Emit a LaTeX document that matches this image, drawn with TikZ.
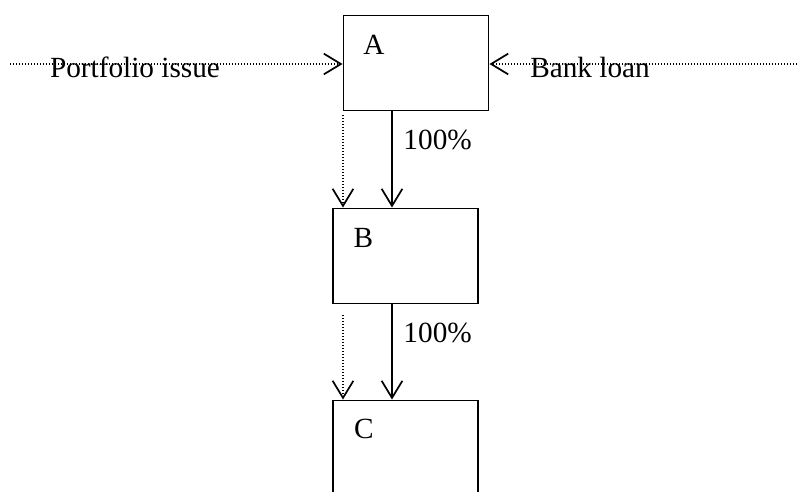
\documentclass[tikz,border=0pt]{standalone}
\usepackage{fontspec}
\setmainfont{Liberation Serif}
\usetikzlibrary{arrows.meta}
\def\u{0.41pt}

\begin{document}
\begin{tikzpicture}[x=\u,y=-\u,
    box/.style={draw,line width=0.8pt,minimum width=145*\u,minimum height=95*\u,inner sep=0pt},
    lbl/.style={font=\fontsize{12}{14}\selectfont,inner sep=0pt},
    flow/.style={line width=0.7pt,-{Straight Barb[length=7pt,width=8.5pt]}},
    share/.style={line width=0.6pt,dash pattern=on 0.41pt off 0.82pt,-{Straight Barb[length=7pt,width=8.5pt,line width=0.7pt]}}]

\useasboundingbox (0,0) rectangle (797,491);
\clip (0,0) rectangle (797,491);

%the three boxes
\node[box] (A) at (416,63) {};
\node[box] (B) at (405.5,256) {};
\node[box] (C) at (405.5,448) {};

\node[lbl,anchor=base] (Alab) at (374,54) {A};
\node[lbl,anchor=base] (Blab) at (363.5,247) {B};
\node[lbl,anchor=base] (Clab) at (364,438) {C};

%shares
\node[lbl,anchor=base west] (pAB) at (403,149) {100\%};
\node[lbl,anchor=base west] (pBC) at (403,342) {100\%};

%funding of A
\node[lbl,anchor=base] (port) at (135,77) {Portfolio issue};
\node[lbl,anchor=base] (bank) at (590,77) {Bank loan};

\coordinate (pstart) at (10,64);
\coordinate (bstart) at (797,64);
\draw[share] (pstart) -- (pstart -| A.west);
\draw[share] (bstart) -- (bstart -| A.east);

%down the chain
\draw[flow] (392,0 |- A.south) -- (392,0 |- B.north);
\draw[flow] (392,0 |- B.south) -- (392,0 |- C.north);

\coordinate (dAB) at (343,115);
\coordinate (dBC) at (343,315);
\draw[share] (dAB) -- (dAB |- B.north);
\draw[share] (dBC) -- (dBC |- C.north);

\end{tikzpicture}
\end{document}
